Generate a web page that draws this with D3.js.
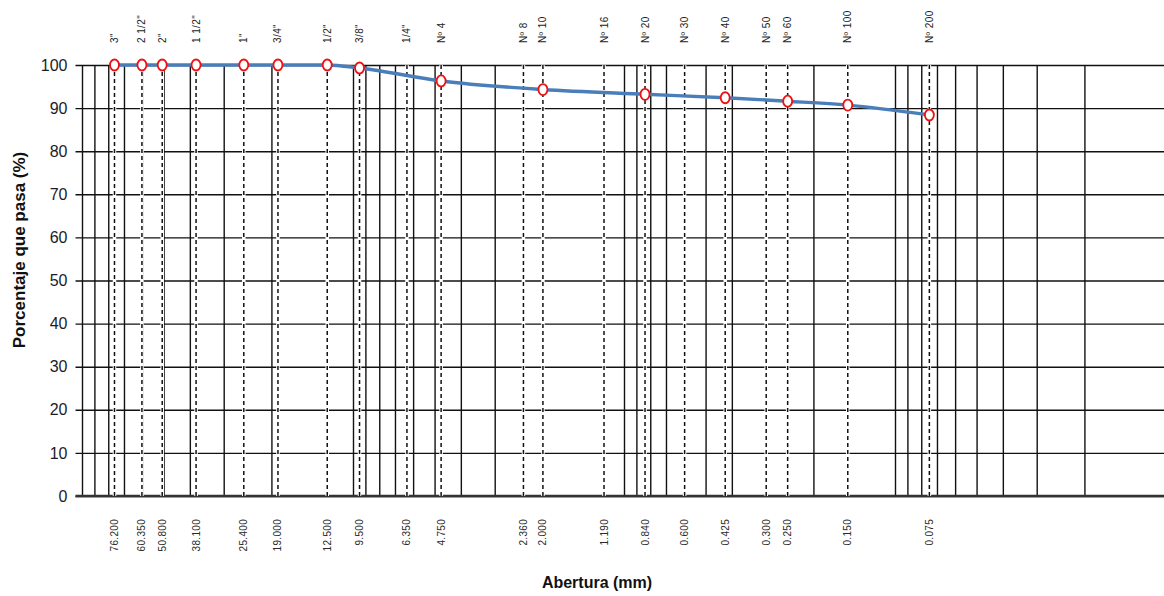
<!DOCTYPE html>
<html>
<head>
<meta charset="utf-8">
<script src="https://cdn.jsdelivr.net/npm/d3@7"></script>
<style>
  html, body { margin: 0; padding: 0; background: #fff; }
  svg { display: block; font-family: "Liberation Sans", Arial, sans-serif; }
</style>
</head>
<body>
<svg id="chart" width="1164" height="596"></svg>
<script>
// ---- data ----
const sieveLabels = ['3"', '2 1/2"', '2"', '1 1/2"', '1"', '3/4"', '1/2"', '3/8"', '1/4"', 'Nº 4',
  'Nº 8', 'Nº 10', 'Nº 16', 'Nº 20', 'Nº 30', 'Nº 40', 'Nº 50', 'Nº 60', 'Nº 100', 'Nº 200'];
const apertures = [76.2, 60.35, 50.8, 38.1, 25.4, 19.0, 12.5, 9.5, 6.35, 4.75,
  2.36, 2.0, 1.19, 0.84, 0.6, 0.425, 0.3, 0.25, 0.15, 0.075];
const apertureLabels = ["76.200", "60.350", "50.800", "38.100", "25.400", "19.000", "12.500", "9.500", "6.350", "4.750",
  "2.360", "2.000", "1.190", "0.840", "0.600", "0.425", "0.300", "0.250", "0.150", "0.075"];
const passing = [100, 100, 100, 100, 100, 100, 100, 99.3, null, 96.3,
  null, 94.3, null, 93.2, null, 92.4, null, 91.6, 90.7, 88.4];
const yTicks = [0, 10, 20, 30, 40, 50, 60, 70, 80, 90, 100];
const xDomain = [100, 0.01];
const yTitle = "Porcentaje que pasa (%)";
const xTitle = "Abertura (mm)";

// ---- scales ----
const svg = d3.select("#chart");
const x = d3.scaleLog().domain(xDomain).range([82.5, 1166.5]);
const y = d3.scaleLinear().domain([0, 100]).range([496, 65]);
const xLeft = x.range()[0], xRight = 1164;

// log grid values
const gridVals = [100];
[1, 0, -1, -2].forEach(e => { for (let m = 9; m >= 1; m--) gridVals.push(m * Math.pow(10, e)); });

const g = svg.append("g");

// vertical log grid
g.append("g").selectAll("line").data(gridVals).join("line")
  .attr("x1", d => x(d)).attr("x2", d => x(d))
  .attr("y1", y(100)).attr("y2", y(0))
  .attr("stroke", "#111").attr("stroke-width", 1.4);

// horizontal grid + y axis
const yAxis = d3.axisLeft(y).tickValues(yTicks).tickSize(7).tickPadding(8).tickFormat(d3.format("d"));
const ya = g.append("g").attr("transform", `translate(${xLeft},0)`).call(yAxis);
ya.select(".domain").remove();
ya.selectAll(".tick line").attr("x2", xRight - xLeft).attr("x1", -7)
  .attr("stroke", "#111").attr("stroke-width", 1.4);
ya.selectAll(".tick text").attr("font-size", 16).attr("fill", "#1c1c28")
  .attr("font-family", "'Liberation Sans', Arial, sans-serif");

// bottom axis line (thicker)
g.append("line").attr("x1", xLeft - 7).attr("x2", xRight).attr("y1", y(0)).attr("y2", y(0))
  .attr("stroke", "#333").attr("stroke-width", 2.4);

// sieve dashed lines
const sieves = apertures.map((a, i) => ({ a, label: sieveLabels[i], alabel: apertureLabels[i], p: passing[i] }));
g.append("g").selectAll("line").data(sieves).join("line")
  .attr("x1", d => x(d.a)).attr("x2", d => x(d.a))
  .attr("y1", y(100)).attr("y2", y(0))
  .attr("stroke", "#fff").attr("stroke-width", 3.5);
g.append("g").selectAll("line").data(sieves).join("line")
  .attr("x1", d => x(d.a)).attr("x2", d => x(d.a))
  .attr("y1", y(100)).attr("y2", y(0))
  .attr("stroke", "#111").attr("stroke-width", 1.5).attr("stroke-dasharray", "4,3");

// top sieve labels
g.append("g").selectAll("text").data(sieves).join("text")
  .attr("transform", d => `translate(${x(d.a)},43) rotate(-90)`)
  .attr("dy", "0.35em").attr("text-anchor", "start")
  .attr("font-size", 10).attr("letter-spacing", 0.4).attr("fill", "#222")
  .text(d => d.label);

// bottom aperture labels
g.append("g").selectAll("text").data(sieves).join("text")
  .attr("transform", d => `translate(${x(d.a)},519) rotate(-90)`)
  .attr("dy", "0.35em").attr("text-anchor", "end")
  .attr("font-size", 10).attr("letter-spacing", 0.3).attr("fill", "#2a2a2a")
  .text(d => d.alabel);

// curve
const pts = sieves.filter(d => d.p !== null);
const line = d3.line().x(d => x(d.a)).y(d => y(d.p)).curve(d3.curveMonotoneX);
g.append("path").datum(pts).attr("d", line)
  .attr("fill", "none").attr("stroke", "#4a7ebb").attr("stroke-width", 3.4)
  .attr("stroke-linejoin", "round");

// markers
g.append("g").selectAll("ellipse").data(pts).join("ellipse")
  .attr("cx", d => x(d.a)).attr("cy", d => y(d.p))
  .attr("rx", 4.5).attr("ry", 5.5)
  .attr("fill", "#fff").attr("stroke", "#ee1111").attr("stroke-width", 1.8);

// titles
svg.append("text")
  .attr("transform", `translate(25,250) rotate(-90)`)
  .attr("text-anchor", "middle").attr("font-weight", "bold").attr("font-size", 17)
  .attr("fill", "#111").text(yTitle);
svg.append("text")
  .attr("x", 597).attr("y", 588)
  .attr("text-anchor", "middle").attr("font-weight", "bold").attr("font-size", 16)
  .attr("fill", "#111").text(xTitle);
</script>
</body>
</html>
